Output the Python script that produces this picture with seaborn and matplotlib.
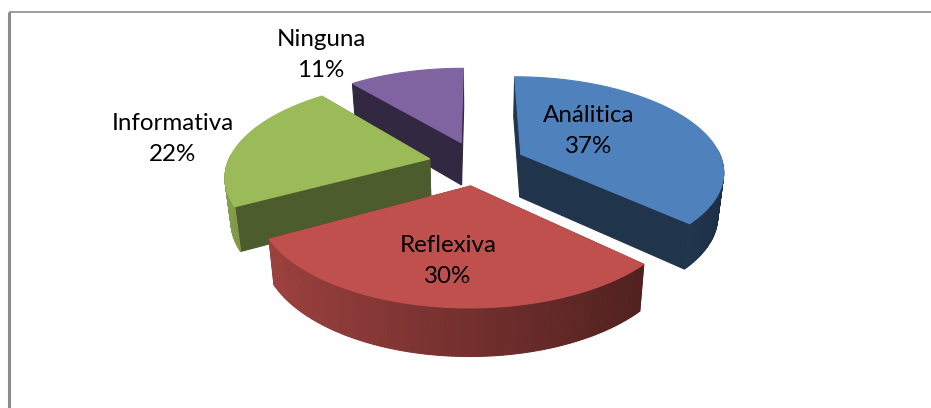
import numpy as np
import matplotlib
matplotlib.use("Agg")
import matplotlib.pyplot as plt
import seaborn as sns

# Datos del grafico
categorias = ["Análitica", "Reflexiva", "Informativa", "Ninguna"]
porcentajes = [37, 30, 22, 11]
colores = ["#4F81BD", "#C0504D", "#9BBB59", "#8064A2"]
sombra_corte = [40, 40, 49, 40]
etiquetas_xy = [(589, 131), (448, 261), (173, 139), (321, 55)]

sns.set_theme(style="white")
plt.rcParams["font.family"] = ["Lato", "DejaVu Sans"]

# Proyeccion del pastel 3D a pixeles
CX, CY = 477, 163
A, B = 202, 93
K = 0.166
PROF = 43
EXPLODE = 0.24


def proyectar(x, y, z=0):
    s = 1 / (1 + K * y)
    # la base se ve un poco mas estrecha que la cara superior
    return CX + A * x * s * (1 - 0.024 * z), CY - B * y * s + PROF * z * (1 + 0.5 * (s - 1))


def cara(ax, puntos, color, orden):
    xs, ys = zip(*puntos)
    ax.fill(xs, ys, color=color, lw=0.8, zorder=orden, snap=False)


fig, ax = plt.subplots(figsize=(9.31, 4.08), dpi=100)
ax.set_position([0, 0, 1, 1])
ax.set_xlim(0, 931)
ax.set_ylim(408, 0)
ax.axis("off")

# marco del grafico
ax.plot([9, 9], [408, 12], color="#8C8C8C", lw=2.2, solid_capstyle="butt")
ax.plot([9, 931], [12, 12], color="#8C8C8C", lw=1.2, solid_capstyle="butt")

# angulos en sentido horario desde las 12
fin = np.cumsum(porcentajes) * 3.6
inicio = fin - np.array(porcentajes) * 3.6

# orden de dibujo: de atras hacia delante
for capa, i in enumerate([3, 2, 0, 1]):
    base = colores[i]
    t0, t1 = np.radians(inicio[i]), np.radians(fin[i])
    medio = (t0 + t1) / 2
    ox, oy = EXPLODE * np.sin(medio), EXPLODE * np.cos(medio)
    th = np.linspace(t0, t1, 120)
    rx, ry = ox + np.sin(th), oy + np.cos(th)
    tonos = sns.blend_palette(["black", base], 201)
    z = 10 + capa * 10

    # caras de corte
    for t in (t0, t1):
        ex, ey = ox + np.sin(t), oy + np.cos(t)
        cara(ax, [proyectar(ox, oy), proyectar(ex, ey), proyectar(ex, ey, 1), proyectar(ox, oy, 1)],
             tonos[sombra_corte[i] * 2], z)

    # pared exterior con degradado, solo la parte que mira al frente
    for j in range(len(th) - 1):
        tm = (th[j] + th[j + 1]) / 2
        if np.cos(tm) > 0.05:
            continue
        f = 0.6 - 0.25 * np.sin(tm)
        cara(ax, [proyectar(rx[j], ry[j]), proyectar(rx[j + 1], ry[j + 1]),
                  proyectar(rx[j + 1], ry[j + 1], 1), proyectar(rx[j], ry[j], 1)],
             tonos[int(f * 200)], z + 1)

    # cara superior
    arriba = [proyectar(ox, oy)] + [proyectar(a, b) for a, b in zip(rx, ry)]
    cara(ax, arriba, base, z + 2)

for (x, y), nombre, p in zip(etiquetas_xy, categorias, porcentajes):
    ax.text(x, y, f"{nombre}\n{p}%", ha="center", va="center", fontsize=17.4,
            color="black", linespacing=1.58, zorder=100)

fig.savefig("out.png", dpi=100)
